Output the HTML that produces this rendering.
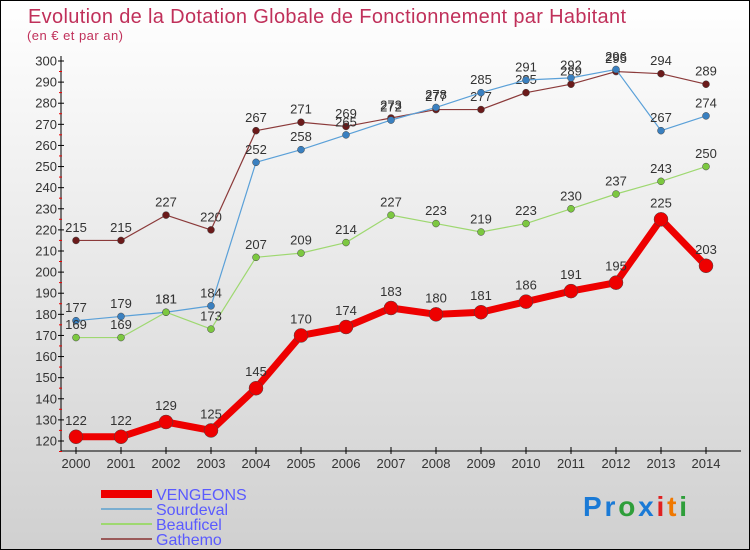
<!DOCTYPE html>
<html><head><meta charset="utf-8"><style>
body{margin:0}
#c{width:748px;height:548px;border:1px solid #000;background:linear-gradient(#fff,#d0d0d0);position:relative;overflow:hidden;font-family:"Liberation Sans",sans-serif}
svg{position:absolute;left:0;top:0}
</style></head><body>
<div id="c">
<svg id="s" width="750" height="550">
<text x="27" y="22" font-size="20" fill="#c0305a" textLength="598">Evolution de la Dotation Globale de Fonctionnement par Habitant</text>
<text x="26" y="39" font-size="13" fill="#c0305a" textLength="96">(en € et par an)</text>
<g font-size="28" font-weight="bold">
<text x="582" y="515" textLength="104"><tspan fill="#1a7ad6">Pr</tspan><tspan fill="#2e9e3a">o</tspan><tspan fill="#1a7ad6">x</tspan><tspan fill="#e02020">i</tspan><tspan fill="#f07800">t</tspan><tspan fill="#2e9e3a">i</tspan></text>
</g>
</svg>
</div>
<script>
const years=[2000,2001,2002,2003,2004,2005,2006,2007,2008,2009,2010,2011,2012,2013,2014];
const vengeons=[122,122,129,125,145,170,174,183,180,181,186,191,195,225,203];
const sourdeval=[177,179,181,184,252,258,265,272,278,285,291,292,296,267,274];
const beauficel=[169,169,181,173,207,209,214,227,223,219,223,230,237,243,250];
const gathemo=[215,215,227,220,267,271,269,273,277,277,285,289,295,294,289];
const yTicks=[120,130,140,150,160,170,180,190,200,210,220,230,240,250,260,270,280,290,300];
const seriesNames=["VENGEONS","Sourdeval","Beauficel","Gathemo"];
const NS="http://www.w3.org/2000/svg";
const s=document.getElementById('s');
const X=i=>75+i*45, Y=v=>440-(v-120)*380/180;
function el(t,a,p){const e=document.createElementNS(NS,t);for(const k in a)e.setAttribute(k,a[k]);(p||s).appendChild(e);return e;}
let e=el('line',{x1:60,y1:55,x2:60,y2:450,stroke:'#000'});

e=el('line',{x1:60,y1:450,x2:740,y2:450,stroke:'#000'});

yTicks.forEach(v=>{const y=Y(v);
 el('line',{x1:57,y1:y,x2:63,y2:y,stroke:'#000'});
 el('line',{x1:58,y1:y+10.5,x2:61,y2:y+10.5,stroke:'#e00'});
 const t=el('text',{x:56,y:y+4.5,'text-anchor':'end','font-size':13,fill:'#333'});t.textContent=v;
 });
years.forEach((yr,i)=>{el('line',{x1:X(i),y1:446,x2:X(i),y2:453,stroke:'#000'});
 const t=el('text',{x:X(i),y:467,'text-anchor':'middle','font-size':13,fill:'#333'});t.textContent=yr;
 });
function series(data,color,w,r,name,dot){
 const g=el('g',{});
 el('polyline',{points:data.map((v,i)=>X(i)+','+Y(v)).join(' '),fill:'none',stroke:color,'stroke-width':w,'stroke-linejoin':'round'},g);
 data.forEach((v,i)=>{const c=el('circle',{cx:X(i),cy:Y(v),r:r,fill:dot,stroke:'#444','stroke-width':0.5},g);
  
  const t=el('text',{x:X(i),y:Y(v)-(r+5),'text-anchor':'middle','font-size':13,fill:'#333'},g);t.textContent=v;});
}
series(gathemo,'#8b3a3a',1.2,3.5,'gathemo','#6b1a1a');
series(sourdeval,'#5aa0d8',1.2,3.5,'sourdeval','#3a80c0');
series(beauficel,'#9ed870',1.2,3.5,'beauficel','#7cc840');
series(vengeons,'#ee0000',7,7,'vengeons','#ee0000');
const lc=['#ee0000','#7aaed0','#9ed870','#9a5a5a'],lw=[8,2,2,2];
seriesNames.forEach((n,i)=>{const y=493+i*15;
 const l=el('line',{x1:100,y1:y,x2:151,y2:y,stroke:lc[i],'stroke-width':lw[i]});
 
 const t=el('text',{x:155,y:y+6,'font-size':16,fill:'#5a5aff'});t.textContent=n;
 });
</script>
</body></html>
